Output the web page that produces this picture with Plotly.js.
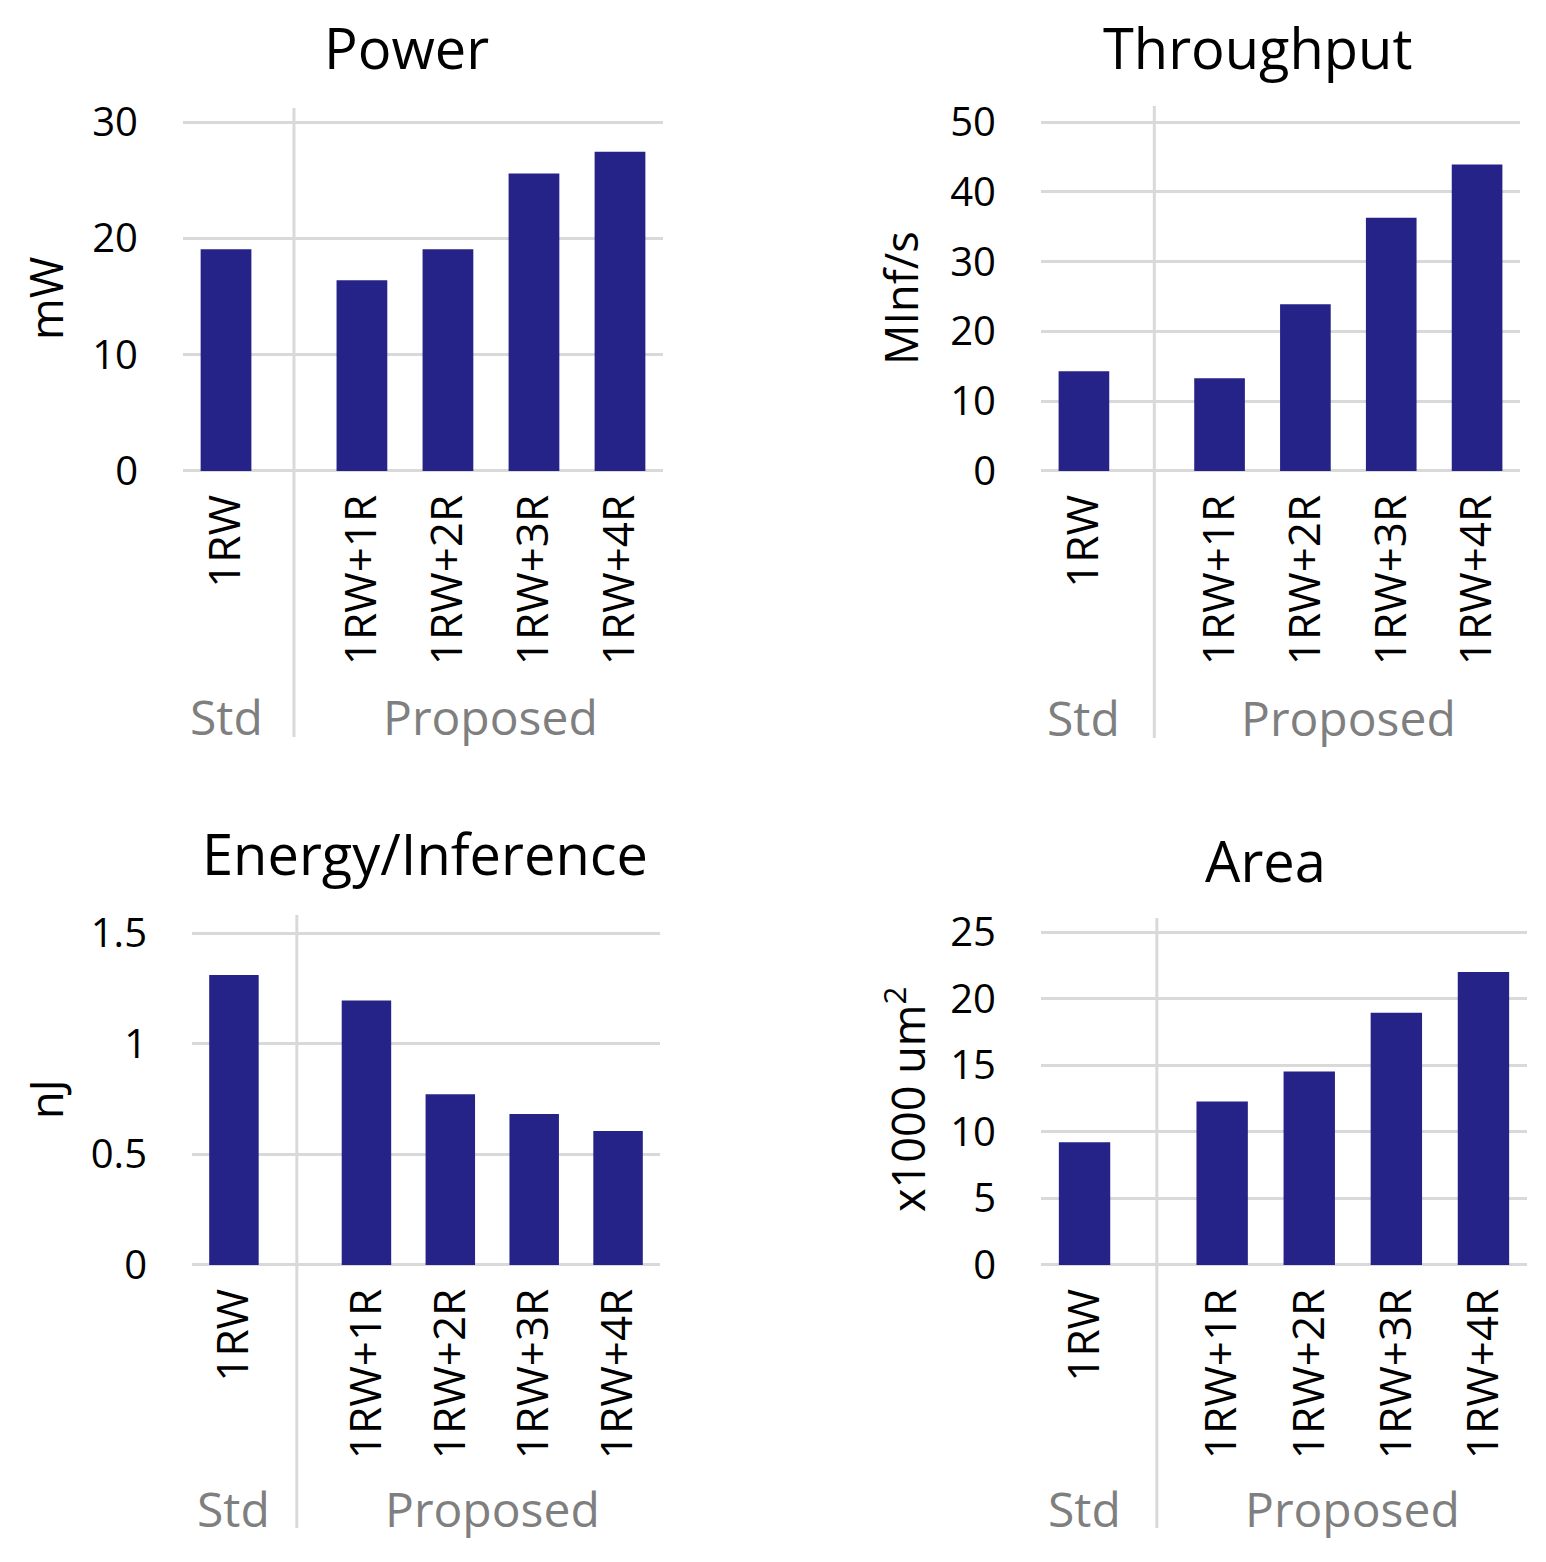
<!DOCTYPE html>
<html>
<head>
<meta charset="utf-8">
<script src="https://cdn.plot.ly/plotly-3.0.1.min.js"></script>
<style>html,body{margin:0;padding:0;background:#fff;}#chart{width:1546px;height:1562px;}</style>
</head>
<body>
<div id="chart"></div>
<script>
// ---- data ----
const categories = ['1RW', '1RW+1R', '1RW+2R', '1RW+3R', '1RW+4R'];
const groups = ['Std', 'Proposed', 'Proposed', 'Proposed', 'Proposed'];
const chartTitles = ['Power', 'Throughput', 'Energy/Inference', 'Area'];
const yTitles = ['mW', 'MInf/s', 'nJ', 'x1000 um<sup>2</sup>'];
const power = [19.07, 16.39, 19.07, 25.57, 27.45];
const throughput = [14.3, 13.3, 23.9, 36.3, 43.9];
const energy = [1.31, 1.195, 0.772, 0.682, 0.605];
const area = [9.21, 12.28, 14.52, 18.94, 22.0];
const powerTicks = [0, 10, 20, 30];
const throughputTicks = [0, 10, 20, 30, 40, 50];
const energyTicks = [0, 0.5, 1, 1.5];
const energyTickText = ['0', '0.5', '1', '1.5'];
const areaTicks = [0, 5, 10, 15, 20, 25];

const seriesList = [power, throughput, energy, area];
const tickList = [powerTicks, throughputTicks, energyTicks, areaTicks];
const tickTextList = [powerTicks.map(String), throughputTicks.map(String), energyTickText, areaTicks.map(String)];

// ---- layout helpers ----
const W = 1546, H = 1562;
const px = p => p / W;
const py = p => 1 - p / H;
const GROUP_GAP = 0.58;
const BAR = '#262388';
const GRID = '#d9d9d9';
const GRAY = '#7f7f7f';
const FONT = 'Open Sans, Noto Sans, sans-serif';

// x position of each category: index plus a gap after each group change
const uniqueGroups = [...new Set(groups)];
const xpos = categories.map((c, i) => i + GROUP_GAP * uniqueGroups.indexOf(groups[i]));
const groupCenter = g => {
  const xs = xpos.filter((v, i) => groups[i] === g);
  return (Math.min(...xs) + Math.max(...xs)) / 2;
};

// panel pixel geometry
const panels = [
  {x0: 183, x1: 663, y0: 122, y1: 471, s0: 108, s1: 737, sep: 0.79, tx: 406, ty: 47, ytx: 45, yty: 299, gy: 716},
  {x0: 1041, x1: 1520, y0: 122, y1: 471, s0: 106, s1: 738, sep: 0.82, tx: 1257, ty: 47, ytx: 900, yty: 298, gy: 718},
  {x0: 192, x1: 660, y0: 933, y1: 1265, s0: 915, s1: 1528, sep: 0.75, tx: 425, ty: 853, ytx: 45, yty: 1099, gy: 1508},
  {x0: 1041, x1: 1527, y0: 932, y1: 1265, s0: 918, s1: 1528, sep: 0.83, tx: 1265, ty: 860, ytx: 905, yty: 1100, gy: 1508}
];

const data = [];
const layout = {
  width: W, height: H,
  margin: {l: 0, r: 0, t: 0, b: 0},
  paper_bgcolor: '#fff', plot_bgcolor: '#fff',
  showlegend: false,
  font: {family: FONT, color: '#000'},
  annotations: [], shapes: []
};

panels.forEach((p, k) => {
  const n = k === 0 ? '' : String(k + 1);
  const xa = 'x' + n, ya = 'y' + n;
  data.push({
    type: 'bar', x: xpos, y: seriesList[k], xaxis: xa, yaxis: ya,
    width: 0.59, marker: {color: BAR, line: {width: 0}},
    hoverinfo: 'skip'
  });
  const ticks = tickList[k];
  const lo = ticks[0], hi = ticks[ticks.length - 1];
  const pad = (hi - lo) * 0.006;
  const hPx = p.y1 - p.y0;
  const padPx = hPx * 0.006 / 1.012;
  layout['xaxis' + n] = {
    domain: [px(p.x0), px(p.x1)], anchor: ya,
    range: [-0.5, xpos[xpos.length - 1] + 0.5],
    tickmode: 'array', tickvals: xpos, ticktext: categories,
    tickangle: -90, tickfont: {size: 44, family: FONT, color: '#000'},
    showgrid: false, zeroline: false, showline: false, ticks: '',
    ticklabelstandoff: 12, fixedrange: true
  };
  layout['yaxis' + n] = {
    domain: [py(p.y1 + padPx), py(p.y0 - padPx)], anchor: xa,
    range: [lo - pad, hi + pad],
    tickmode: 'array', tickvals: ticks, ticktext: tickTextList[k],
    tickfont: {size: 40, family: FONT, color: '#000'},
    showgrid: true, gridcolor: GRID, gridwidth: 3,
    zeroline: false, showline: false, ticks: '',
    ticklabelstandoff: 44, fixedrange: true
  };
  // group separator
  layout.shapes.push({
    type: 'line', xref: xa, yref: 'paper',
    x0: p.sep, x1: p.sep, y0: py(p.s1), y1: py(p.s0),
    line: {color: GRID, width: 3}, layer: 'below'
  });
  // group labels
  uniqueGroups.forEach(g => {
    layout.annotations.push({
      xref: xa, yref: 'paper', x: groupCenter(g), y: py(p.gy),
      text: g, showarrow: false, xanchor: 'center', yanchor: 'middle',
      font: {size: 48, family: FONT, color: GRAY}
    });
  });
  // chart title
  layout.annotations.push({
    xref: 'paper', yref: 'paper', x: px(p.tx), y: py(p.ty),
    text: chartTitles[k], showarrow: false, xanchor: 'center', yanchor: 'middle',
    font: {size: 56, family: FONT, color: '#000'}
  });
  // y axis title
  layout.annotations.push({
    xref: 'paper', yref: 'paper', x: px(p.ytx), y: py(p.yty),
    text: yTitles[k], showarrow: false, xanchor: 'center', yanchor: 'middle',
    textangle: -90, font: {size: 45, family: FONT, color: '#000'}
  });
});

Plotly.newPlot('chart', data, layout, {staticPlot: true, displayModeBar: false});
</script>
</body>
</html>
